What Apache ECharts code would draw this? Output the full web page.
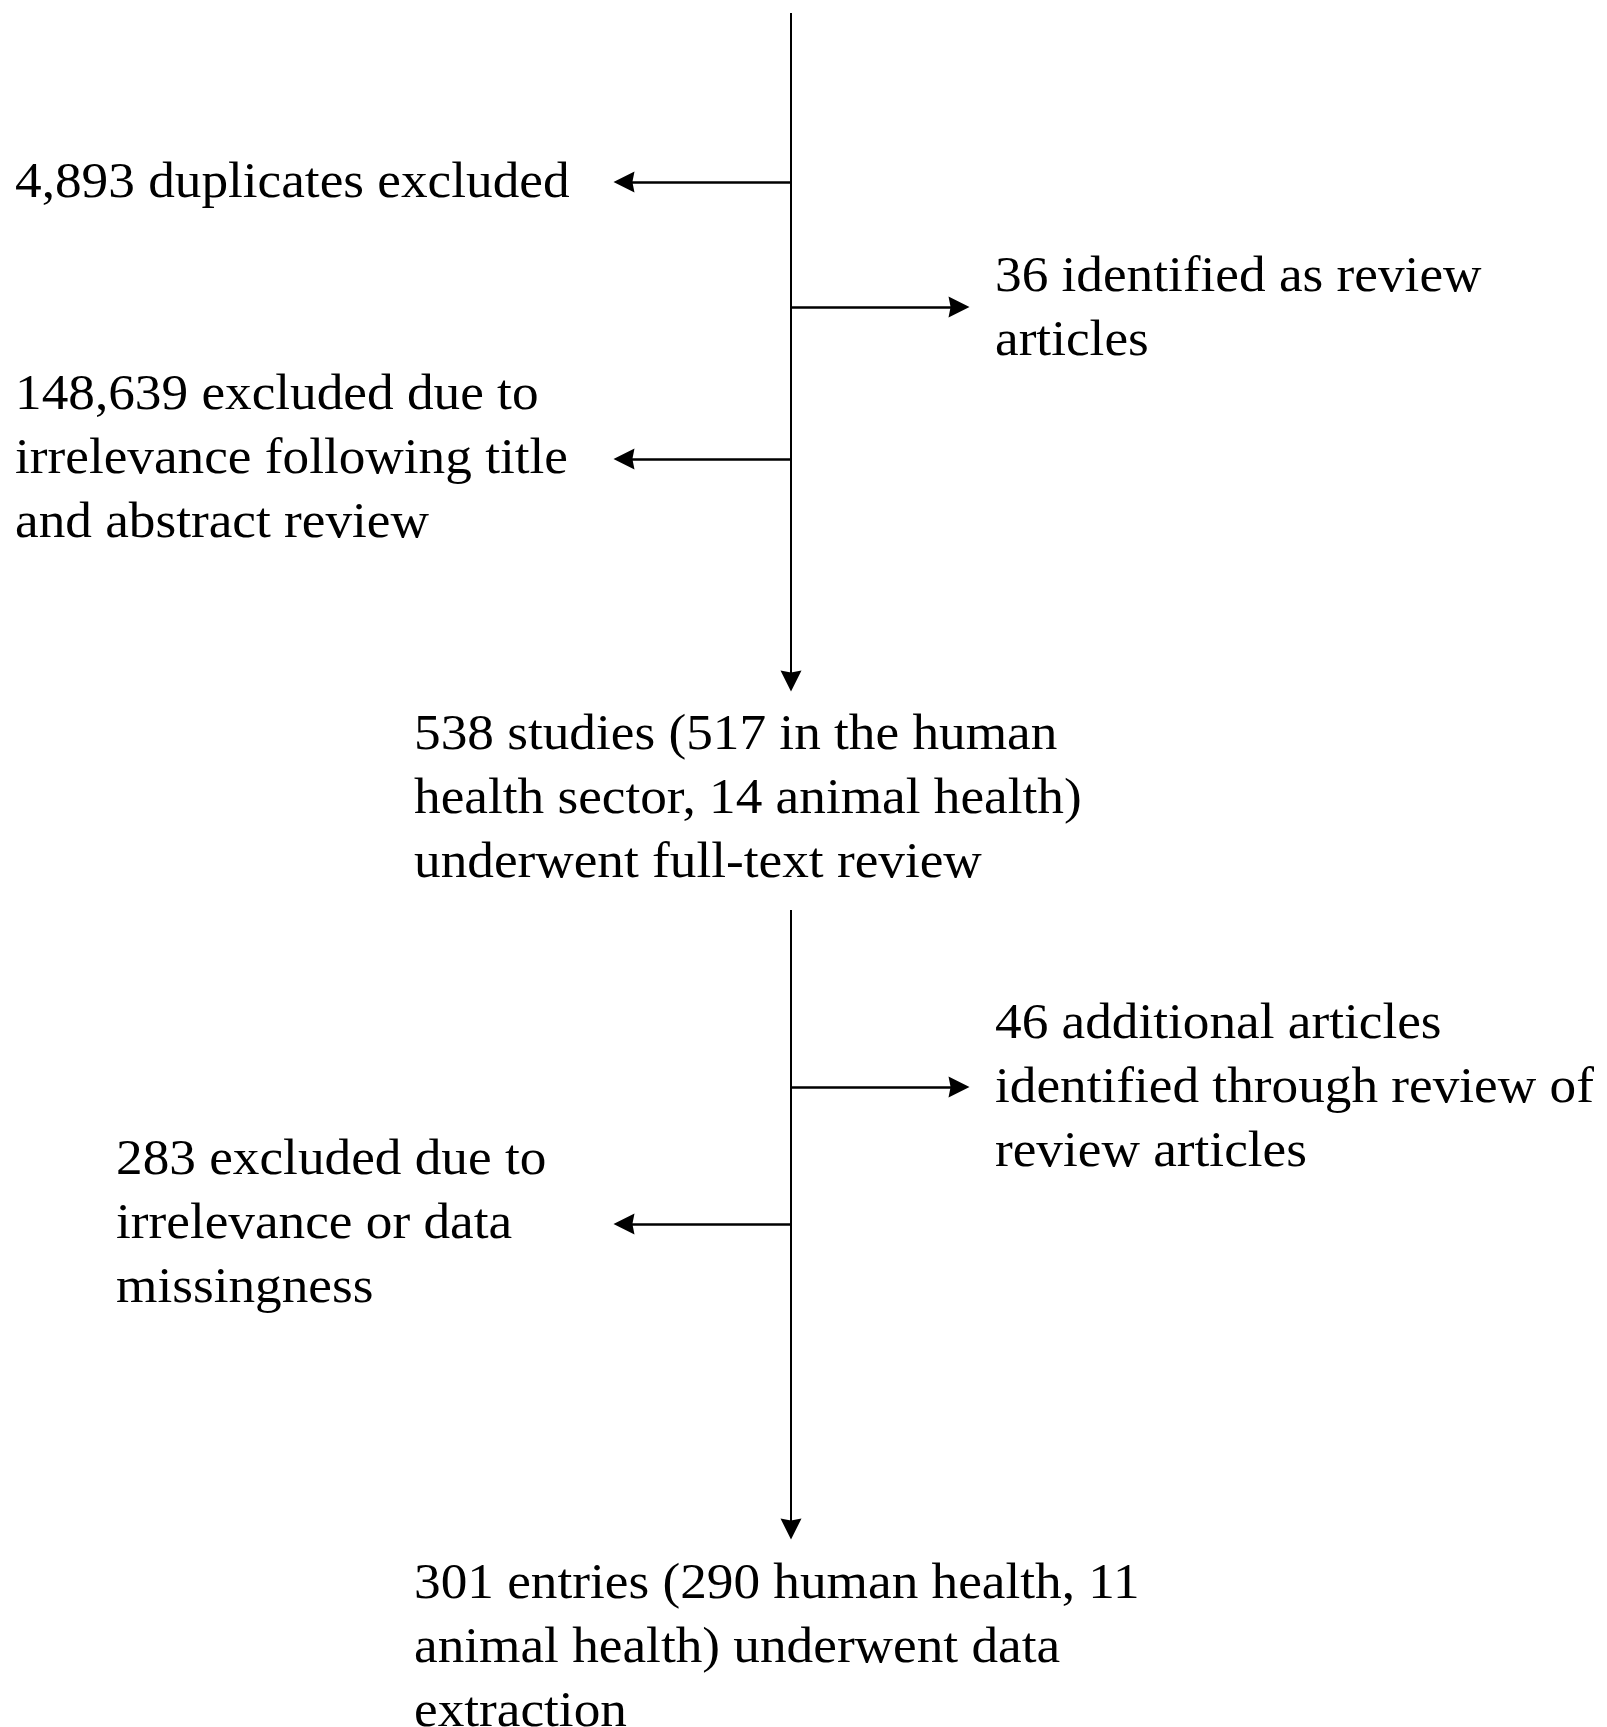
<!DOCTYPE html>
<html>
<head>
<meta charset="utf-8">
<script src="https://cdn.jsdelivr.net/npm/echarts@6/dist/echarts.min.js"></script>
<style>
  html, body { margin: 0; padding: 0; background: #ffffff; }
  #chart { width: 1607px; height: 1727px; }
</style>
</head>
<body>
<div id="chart"></div>
<script>
// ---- content (text of the flow diagram) ----
const stageTexts = [
  '538 studies (517 in the human\nhealth sector, 14 animal health)\nunderwent full-text review',
  '301 entries (290 human health, 11\nanimal health) underwent data\nextraction'
];
const exclusionTexts = [
  '4,893 duplicates excluded',
  '148,639 excluded due to\nirrelevance following title\nand abstract review',
  '283 excluded due to\nirrelevance or data\nmissingness'
];
const additionTexts = [
  '36 identified as review\narticles',
  '46 additional articles\nidentified through review of\nreview articles'
];

// ---- layout (diagram coordinates, y grows downward) ----
const W = 1607, H = 1727;
const spineX = 791;
const spineSegments = [[13, 691], [910, 1539]];          // start y, arrow tip y
const exclusionArrowY = [182, 459, 1224];
const exclusionTextPos = [[15, 184], [15, 460], [116, 1225]];
const additionArrowY = [307, 1087];
const additionTextPos = [[995, 310], [995, 1089]];
const stageTextPos = [[414, 800], [414, 1649]];
const leftTipX = 614, rightTipX = 969;
const headLen = 20;

// ---- build line data ----
const lineData = [];
spineSegments.forEach(function (s) {
  lineData.push({ coords: [[spineX, s[0]], [spineX, s[1] - headLen / 2]], lineStyle: { width: 2 } });
});
exclusionArrowY.forEach(function (y) {
  lineData.push({ coords: [[spineX, y], [leftTipX + headLen / 2, y]], lineStyle: { width: 2.5 } });
});
additionArrowY.forEach(function (y) {
  lineData.push({ coords: [[spineX, y], [rightTipX - headLen / 2, y]], lineStyle: { width: 2.5 } });
});

// ---- build text data ----
const textList = [];
const textPoints = [];
stageTexts.forEach(function (t, i) { textList.push(t); textPoints.push(stageTextPos[i]); });
exclusionTexts.forEach(function (t, i) { textList.push(t); textPoints.push(exclusionTextPos[i]); });
additionTexts.forEach(function (t, i) { textList.push(t); textPoints.push(additionTextPos[i]); });

const chart = echarts.init(document.getElementById('chart'), null, { renderer: 'canvas' });
chart.setOption({
  animation: false,
  backgroundColor: '#ffffff',
  grid: { left: 0, right: 0, top: 0, bottom: 0 },
  xAxis: { type: 'value', min: 0, max: W, show: false },
  yAxis: { type: 'value', min: 0, max: H, inverse: true, show: false },
  series: [
    {
      type: 'lines',
      coordinateSystem: 'cartesian2d',
      silent: true,
      symbol: ['none', 'path://M0,0L10,20L0,18L-10,20Z'],
      symbolSize: 21,
      lineStyle: { color: '#000000', width: 2, opacity: 1, curveness: 0 },
      data: lineData,
      z: 2
    },
    {
      type: 'custom',
      coordinateSystem: 'cartesian2d',
      silent: true,
      clip: false,
      data: textPoints,
      renderItem: function (params, api) {
        const p = api.coord([api.value(0), api.value(1)]);
        return {
          type: 'text',
          x: p[0],
          y: p[1],
          scaleX: 1.065,
          style: {
            text: textList[params.dataIndex],
            fontFamily: '"Liberation Serif", "Times New Roman", serif',
            fontSize: 50,
            lineHeight: 64,
            fill: '#000000',
            align: 'left',
            verticalAlign: 'middle'
          }
        };
      },
      z: 3
    }
  ]
});
</script>
</body>
</html>
